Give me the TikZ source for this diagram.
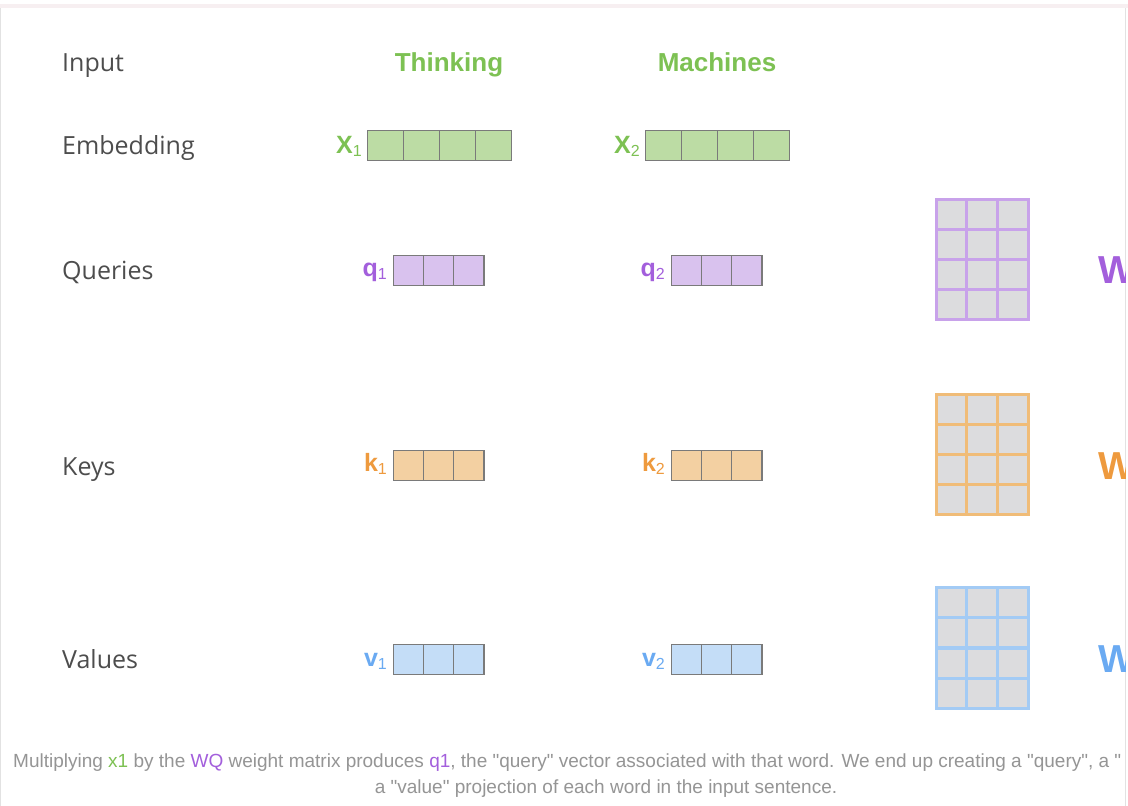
\documentclass[tikz,border=0pt]{standalone}
\usepackage{fontspec}
\setmainfont{Open Sans}
\newfontfamily\headfont{Liberation Sans}

\definecolor{labelgray}{HTML}{4D4D4D}
\definecolor{capgray}{HTML}{959595}
\definecolor{wordgreen}{HTML}{7DC153}
\definecolor{embfill}{HTML}{BCDCA4}
\definecolor{qpurple}{HTML}{A35FDC}
\definecolor{qfill}{HTML}{D9C2EE}
\definecolor{qline}{HTML}{C8A2EA}
\definecolor{korange}{HTML}{EE9A3E}
\definecolor{kfill}{HTML}{F3D0A2}
\definecolor{kline}{HTML}{F0BC78}
\definecolor{vblue}{HTML}{6AAAF2}
\definecolor{vfill}{HTML}{C4DDF7}
\definecolor{vline}{HTML}{A3CBF5}
\definecolor{cellgray}{HTML}{DCDCDE}
\definecolor{boxedge}{HTML}{7A7A7A}
\definecolor{bandpink}{HTML}{F7EFF1}
\definecolor{edgegray}{HTML}{E2E2E2}

\newcommand\vsub[1]{\raisebox{-0.12em}{\mdseries\fontsize{16}{16}\selectfont #1}}

\tikzset{
  rowlabel/.style={anchor=base west, text=labelgray, font=\fontsize{25}{25}\selectfont, inner sep=0pt},
  wordlabel/.style={anchor=base, text=wordgreen, font=\headfont\bfseries\fontsize{26}{26}\selectfont, inner sep=0pt},
  veclabel/.style={anchor=base east, font=\headfont\bfseries\fontsize{25}{25}\selectfont, inner sep=0pt},
  vcell/.style={draw=boxedge, line width=1.4pt, minimum width=#1, minimum height=30.5pt, inner sep=0pt, anchor=north west},
  vcell/.default=36pt,
  wcell/.style={fill=cellgray, line width=3pt, minimum width=30.7pt, minimum height=30pt, inner sep=0pt, anchor=north west},
  wletter/.style={anchor=west, font=\headfont\bfseries\fontsize{39}{39}\selectfont, inner sep=0pt},
  caption/.style={text=capgray, font=\headfont\fontsize{19}{19}\selectfont, inner sep=0pt}
}

\begin{document}
\begin{tikzpicture}[x=1pt, y=-1pt]
  \useasboundingbox (0,0) rectangle (1128,806);
  \fill[white] (0,0) rectangle (1128,806);
  % page frame of the screenshot
  \fill[bandpink] (0,4) rectangle (1128,8);
  \draw[edgegray, line width=1pt] (0.5,8) -- (0.5,806);
  \draw[edgegray, line width=1pt] (1125.5,8) -- (1125.5,806);

  % row labels
  \node[rowlabel] (inputlab) at (62,71) {Input};
  \node[rowlabel] (emblab) at (62,154) {Embedding};
  \node[rowlabel] (querylab) at (62,279) {Queries};
  \node[rowlabel] (keylab) at (62,475) {Keys};
  \node[rowlabel] (valuelab) at (62,668) {Values};

  % input words
  \node[wordlabel] (word1) at (449,71) {Thinking};
  \node[wordlabel] (word2) at (717,71) {Machines};

  % embeddings
  \foreach \i in {1,...,4} {
    \node[vcell, fill=embfill] (xa\i) at ({366.5+36*(\i-1)},129.5) {};
    \node[vcell, fill=embfill] (xb\i) at ({644.5+36*(\i-1)},129.5) {};
  }
  \node[veclabel, text=wordgreen] (xalab) at (362,153) {X\vsub{1}};
  \node[veclabel, text=wordgreen] (xblab) at (640,153) {X\vsub{2}};

  % queries, keys, values
  \foreach \i in {1,...,3} {
    \node[vcell=30.2pt, fill=qfill] (qa\i) at ({392.5+30.2*(\i-1)},254.5) {};
    \node[vcell=30.2pt, fill=qfill] (qb\i) at ({670.5+30.2*(\i-1)},254.5) {};
    \node[vcell=30.2pt, fill=kfill] (ka\i) at ({392.5+30.2*(\i-1)},449.5) {};
    \node[vcell=30.2pt, fill=kfill] (kb\i) at ({670.5+30.2*(\i-1)},449.5) {};
    \node[vcell=30.2pt, fill=vfill] (va\i) at ({392.5+30.2*(\i-1)},643.5) {};
    \node[vcell=30.2pt, fill=vfill] (vb\i) at ({670.5+30.2*(\i-1)},643.5) {};
  }
  \node[veclabel, text=qpurple] (qalab) at (387,276) {q\vsub{1}};
  \node[veclabel, text=qpurple] (qblab) at (665,276) {q\vsub{2}};
  \node[veclabel, text=korange] (kalab) at (387,471) {k\vsub{1}};
  \node[veclabel, text=korange] (kblab) at (665,471) {k\vsub{2}};
  \node[veclabel, text=vblue] (valab) at (387,666) {v\vsub{1}};
  \node[veclabel, text=vblue] (vblab) at (665,666) {v\vsub{2}};

  % weight matrices
  \foreach \r in {1,...,4}
    \foreach \c in {1,...,3} {
      \node[wcell, draw=qline] (wq\r\c) at ({934.5+30.7*(\c-1)},{197.5+30*(\r-1)}) {};
      \node[wcell, draw=kline] (wk\r\c) at ({934.5+30.7*(\c-1)},{392.5+30*(\r-1)}) {};
      \node[wcell, draw=vline] (wv\r\c) at ({934.5+30.7*(\c-1)},{585.5+30.5*(\r-1)}) {};
    }

  \begin{scope}
    \clip (0,0) rectangle (1125,806);
    \node[wletter, text=qpurple] (wqlab) at (1098,270) {W};
    \node[wletter, text=korange] (wklab) at (1098,466) {W};
    \node[wletter, text=vblue] (wvlab) at (1098,659) {W};
    % caption
    \node[caption, anchor=base west] (cap1) at (13,767)
      {Multiplying \textcolor{wordgreen}{x1} by the \textcolor{qpurple}{WQ} weight matrix produces \textcolor{qpurple}{q1}, the "query" vector associated with that word. We end up creating a "query", a "};
  \end{scope}
  \node[caption, anchor=base] (cap2) at (606,793)
    {a "value" projection of each word in the input sentence.};
\end{tikzpicture}
\end{document}
